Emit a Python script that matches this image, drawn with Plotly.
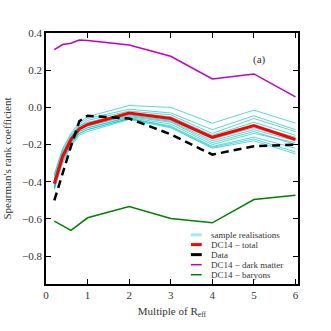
import plotly.graph_objects as go

x = [0.2, 0.4, 0.6, 0.8, 1.0, 2.0, 3.0, 4.0, 5.0, 6.0]

samples = [
    [-0.36, -0.22, -0.14, -0.08, -0.05, 0.01, 0.0, -0.085, -0.015, -0.085],
    [-0.37, -0.23, -0.15, -0.09, -0.06, -0.01, -0.03, -0.12, -0.045, -0.12],
    [-0.38, -0.24, -0.16, -0.10, -0.07, -0.02, -0.04, -0.14, -0.06, -0.13],
    [-0.39, -0.25, -0.16, -0.10, -0.08, -0.03, -0.05, -0.15, -0.08, -0.15],
    [-0.40, -0.25, -0.17, -0.11, -0.09, -0.035, -0.06, -0.16, -0.10, -0.16],
    [-0.41, -0.26, -0.18, -0.12, -0.10, -0.04, -0.07, -0.17, -0.11, -0.17],
    [-0.42, -0.27, -0.18, -0.12, -0.10, -0.045, -0.075, -0.18, -0.12, -0.18],
    [-0.42, -0.27, -0.19, -0.13, -0.11, -0.05, -0.08, -0.19, -0.13, -0.20],
    [-0.43, -0.28, -0.19, -0.13, -0.11, -0.055, -0.09, -0.20, -0.14, -0.19],
    [-0.43, -0.28, -0.20, -0.14, -0.12, -0.06, -0.10, -0.21, -0.16, -0.22],
    [-0.44, -0.29, -0.20, -0.14, -0.12, -0.06, -0.105, -0.215, -0.17, -0.24],
    [-0.44, -0.30, -0.21, -0.15, -0.13, -0.065, -0.11, -0.22, -0.18, -0.25],
]

dc14_total = [-0.41, -0.263, -0.173, -0.116, -0.092, -0.03, -0.06, -0.161, -0.098, -0.173]
data_obs = [-0.50, -0.35, -0.21, -0.075, -0.045, -0.06, -0.145, -0.254, -0.209, -0.20]
dc14_dm = [0.31, 0.338, 0.345, 0.362, 0.36, 0.335, 0.275, 0.153, 0.18, 0.056]
x_bar = [0.2, 0.6, 1.0, 2.0, 3.0, 4.0, 5.0, 6.0]
dc14_bar = [-0.612, -0.662, -0.594, -0.533, -0.598, -0.621, -0.496, -0.473]

legend_labels = ["sample realisations", "DC14 \u2212 total", "Data",
                 "DC14 \u2212 dark matter", "DC14 \u2212 baryons"]

font_family = "Liberation Serif"
text_color = "#333333"
cyan = "rgba(0,191,191,0.8)"

fig = go.Figure()
for s in samples:
    fig.add_trace(go.Scatter(x=x, y=s, mode="lines", showlegend=False,
                             line=dict(color=cyan, width=0.8)))

fig.add_trace(go.Scatter(x=x, y=dc14_total, mode="lines", showlegend=False,
                         line=dict(color="#ff0000", width=3)))
fig.add_trace(go.Scatter(x=x, y=data_obs, mode="lines", showlegend=False,
                         line=dict(color="black", width=2.5, dash="8px,5px")))
fig.add_trace(go.Scatter(x=x, y=dc14_dm, mode="lines", showlegend=False,
                         line=dict(color="#bf00bf", width=1.5)))
fig.add_trace(go.Scatter(x=x_bar, y=dc14_bar, mode="lines", showlegend=False,
                         line=dict(color="#008000", width=1.5)))

# compact legend (bottom right, inside axes)
legend_styles = [
    dict(color="rgba(0,191,191,0.35)", width=3),
    dict(color="#ff0000", width=3),
    dict(color="black", width=3),
    dict(color="#bf00bf", width=1.5),
    dict(color="#008000", width=1.5),
]
row_y = [0.196, 0.157, 0.117, 0.077, 0.037]
for lab, sty, yy in zip(legend_labels, legend_styles, row_y):
    fig.add_shape(type="line", xref="paper", yref="paper",
                  x0=0.575, x1=0.618, y0=yy, y1=yy, line=sty)
    fig.add_annotation(xref="paper", yref="paper", x=0.645, y=yy, text=lab,
                       showarrow=False, xanchor="left", yanchor="middle",
                       font=dict(family=font_family, size=9, color=text_color))

fig.add_annotation(x=5.14, y=0.26, text="(a)", showarrow=False,
                   font=dict(family=font_family, size=11, color=text_color))

axis_common = dict(
    showline=True, linecolor="black", linewidth=1.5, mirror="ticks",
    ticks="inside", ticklen=5, tickcolor="black", showgrid=False, zeroline=False,
    tickfont=dict(family=font_family, size=11, color=text_color),
    automargin=False,
)

fig.update_xaxes(range=[0, 6.06], tickvals=[0, 1, 2, 3, 4, 5, 6],
                 title=dict(text="Multiple of R<sub>eff</sub>", standoff=7,
                            font=dict(family=font_family, size=11, color=text_color)),
                 **axis_common)
fig.update_yaxes(range=[-0.95, 0.4], tickvals=[-0.8, -0.6, -0.4, -0.2, 0.0, 0.2, 0.4],
                 tickformat=".1f",
                 title=dict(text="Spearman's rank coefficient", standoff=8,
                            font=dict(family=font_family, size=11, color=text_color)),
                 **axis_common)

fig.update_layout(
    width=331, height=331,
    margin=dict(l=46, r=33, t=33, b=47),
    paper_bgcolor="white", plot_bgcolor="white",
    showlegend=False,
)

fig.write_html("out.html", config={"displayModeBar": False},
               post_script="document.body.style.margin='0';")
